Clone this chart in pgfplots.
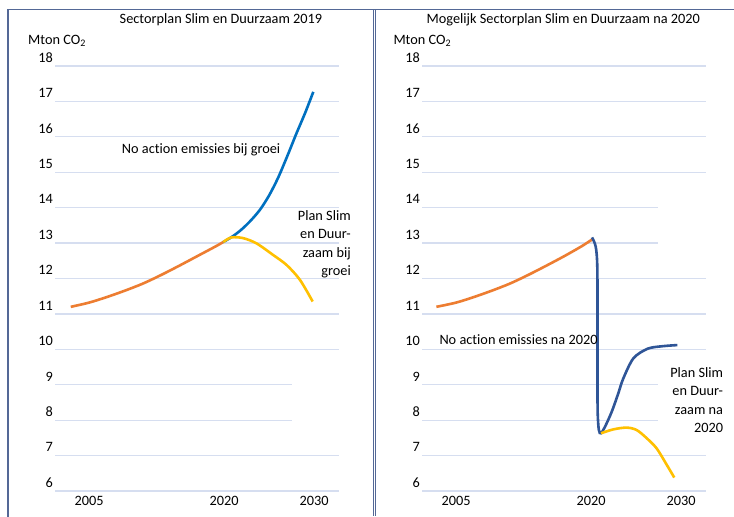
\documentclass[border=0pt]{standalone}
\usepackage{fontspec}
\setmainfont{Carlito}[Ligatures={NoCommon,NoRequired,NoContextual}]
\usepackage{pgfplots}
\pgfplotsset{compat=1.18}
\definecolor{gridc}{RGB}{214,222,240}
\definecolor{framec}{RGB}{84,104,150}
\definecolor{corange}{RGB}{237,125,49}
\definecolor{cblue}{RGB}{0,112,192}
\definecolor{cnavy}{RGB}{47,85,151}
\definecolor{cyellow}{RGB}{255,192,0}
\newcommand{\fs}{\fontsize{14.3}{18.5}\selectfont}
\pgfplotsset{panel/.style={
  scale only axis, width=283.5pt, height=425pt,
  xmin=2001.2, xmax=2032.7, ymin=6, ymax=18,
  axis line style={draw=none}, major tick length=0pt, tick style={draw=none},
  xtick={2005,2020,2030}, xticklabels={2005,2020,2030},
  ytick={6,7,8,9,10,11,12,13,14,15,16,17,18},
  /pgf/number format/assume math mode=true,
  ticklabel style={font=\fs},
  yticklabel style={anchor=south east, inner xsep=2pt, inner ysep=3.5pt},
  xticklabel style={yshift=-1.5pt},
  clip=false,
  anchor=south west,
}}
\begin{document}
\begin{tikzpicture}
\useasboundingbox[fill=white] (0,0) rectangle (734pt,517pt);
% frame
\draw[framec, line width=1.2pt] (8pt,0pt) -- (8pt,507.5pt) -- (734pt,507.5pt);
\draw[framec, line width=0.9pt] (373.2pt,1pt) -- (373.2pt,507.5pt);
\draw[framec, line width=0.9pt] (375.6pt,1pt) -- (375.6pt,507.5pt);

% left panel
\begin{axis}[panel, at={(55pt,26pt)}]
\pgfplotsinvokeforeach{6,7,10,11,12,13,14,15,16,17,18}{
  \draw[gridc, line width=1.2pt] (axis cs:2001.2,#1) -- (axis cs:2032.7,#1);}
\pgfplotsinvokeforeach{8,9}{
  \draw[gridc, line width=1.2pt] (axis cs:2001.2,#1) -- (axis cs:2027.5,#1);}
\addplot[corange, line width=2.6pt, smooth] coordinates {
 (2002.95,11.20) (2005,11.32) (2007,11.48) (2009,11.66) (2011,11.86)
 (2013,12.10) (2015,12.36) (2017,12.63) (2019,12.90) (2019.9,13.03)};
\addplot[cblue, line width=2.6pt, smooth] coordinates {
 (2019.9,13.03) (2021,13.2) (2022,13.4) (2023,13.65) (2024,13.95)
 (2025,14.35) (2026,14.85) (2027,15.45) (2028,16.08) (2029,16.68) (2029.9,17.27)};
\addplot[cyellow, line width=2.6pt, smooth] coordinates {
 (2019.9,13.03) (2020.8,13.16) (2022.1,13.14) (2023.6,12.99) (2025.46,12.66)
 (2026.94,12.38) (2028.42,11.96) (2029.83,11.35)};
\end{axis}

% right panel
\begin{axis}[panel, at={(422pt,26pt)}]
\pgfplotsinvokeforeach{6,7,10,11,12,15,16,17,18}{
  \draw[gridc, line width=1.2pt] (axis cs:2001.2,#1) -- (axis cs:2032.7,#1);}
\pgfplotsinvokeforeach{8,9,13,14}{
  \draw[gridc, line width=1.2pt] (axis cs:2001.2,#1) -- (axis cs:2027.4,#1);}
\addplot[corange, line width=2.6pt, smooth] coordinates {
 (2002.8,11.20) (2005,11.32) (2007,11.48) (2009,11.66) (2011,11.86)
 (2013,12.10) (2015,12.36) (2017,12.63) (2019,12.92) (2020.2,13.12)};
\addplot[cnavy, line width=2.6pt, smooth] coordinates {
 (2020.09,13.16) (2020.5,12.9) (2020.68,12.3) (2020.7,10.5) (2020.7,9.0)
 (2020.72,8.2) (2020.85,7.72) (2021.09,7.63) (2021.6,7.85) (2022.3,8.25) (2023.0,8.75)
 (2023.57,9.18) (2024.7,9.75) (2026.3,10.02) (2028,10.09) (2029.57,10.12)};
\addplot[cyellow, line width=2.6pt, smooth] coordinates {
 (2021.09,7.63) (2022.46,7.74) (2023.94,7.79) (2025.06,7.72) (2026.17,7.49)
 (2027.28,7.2) (2028.39,6.74) (2029.23,6.38)};
\end{axis}

% texts
\node[font=\fs] at (221pt,497pt) {Sectorplan Slim en Duurzaam 2019};
\node[font=\fs] at (563.3pt,497pt) {Mogelijk Sectorplan Slim en Duurzaam na 2020};
\node[font=\fs, anchor=west, inner sep=0pt] at (28pt,476pt) {Mton CO\textsubscript{2}};
\node[font=\fs, anchor=west, inner sep=0pt] at (393.3pt,476pt) {Mton CO\textsubscript{2}};
\node[font=\fs, anchor=west, inner sep=0pt] at (121.7pt,367pt) {No action emissies bij groei};
\node[font=\fs, anchor=west, inner sep=0pt] at (439.3pt,177.7pt) {No action emissies na 2020};
\node[font=\fs, anchor=east, inner sep=0pt, align=right] at (351pt,272.5pt) {Plan Slim\\en Duur-\\zaam bij\\groei};
\node[font=\fs, anchor=east, inner sep=0pt, align=right] at (723.3pt,116.8pt) {Plan Slim\\en Duur-\\zaam na\\2020};
\end{tikzpicture}
\end{document}
